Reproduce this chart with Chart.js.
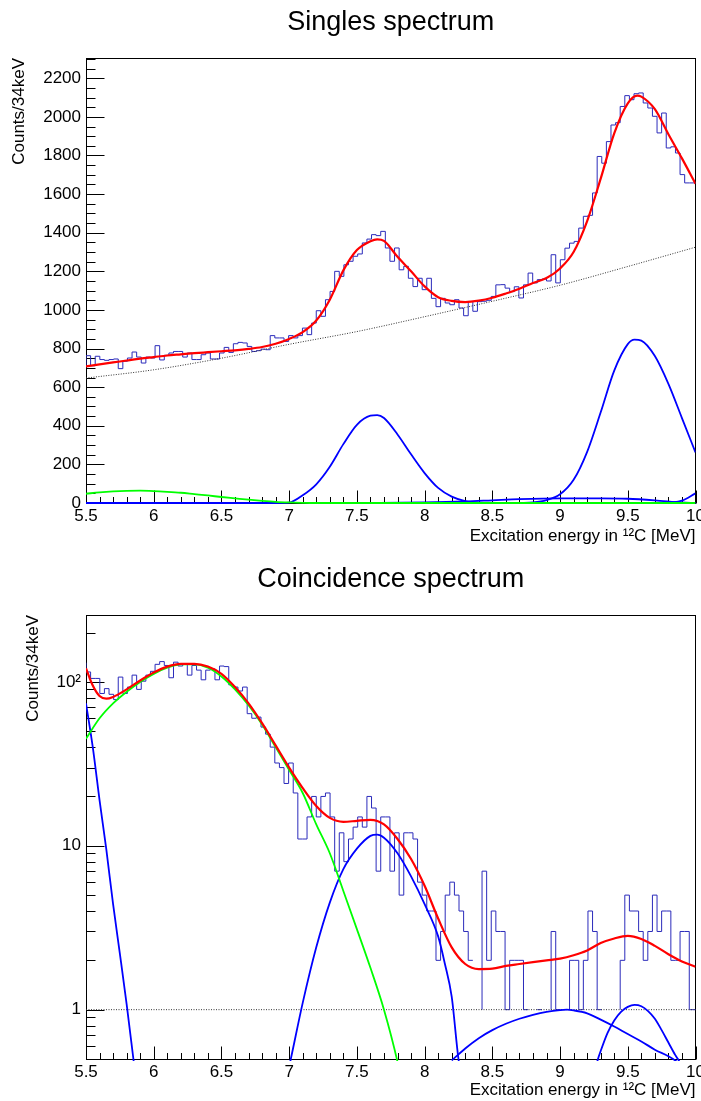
<!DOCTYPE html>
<html>
<head>
<meta charset="utf-8">
<title>Singles and coincidence spectra</title>
<script src="https://cdn.jsdelivr.net/npm/chart.js@4.4.1/dist/chart.umd.min.js"></script>
<style>
  html, body { margin:0; padding:0; background:#fff; }
  body { width:701px; height:1101px; position:relative; overflow:hidden; }
  #c1 { position:absolute; left:0; top:0; }
  #c2 { position:absolute; left:0; top:550px; }
</style>
</head>
<body>
<canvas id="c1" width="701" height="550"></canvas>
<canvas id="c2" width="701" height="551"></canvas>
<script>
const FONT = '"Liberation Sans", Arial, Helvetica, sans-serif';

// ---- histogram binning (34 keV bins) ----
const binStart = 5.5;
const binWidth = 0.034;

// ---- Singles spectrum: counts per bin ----
const singlesCounts = [
  708, 763, 711, 760, 743, 739, 743, 746, 696, 734,
  751, 782, 756, 725, 756, 751, 815, 741, 765, 777,
  785, 785, 756, 777, 743, 743, 768, 777, 746, 746,
  777, 806, 780, 825, 832, 829, 811, 785, 789, 797,
  794, 867, 855, 855, 837, 867, 855, 867, 906, 872,
  932, 996, 967, 1053, 1096, 1200, 1174, 1234, 1252, 1278,
  1290, 1347, 1367, 1390, 1385, 1407, 1321, 1252, 1321, 1208,
  1226, 1164, 1121, 1164, 1105, 1164, 1060, 1017, 1060, 1036,
  1027, 1053, 1010, 970, 1044, 993, 1043, 1045, 1050, 1070,
  1130, 1131, 1113, 1095, 1120, 1062, 1130, 1191, 1140, 1157,
  1160, 1150, 1286, 1140, 1260, 1320, 1346, 1355, 1424, 1485,
  1490, 1606, 1795, 1760, 1872, 1958, 1970, 2054, 2110, 2089,
  2120, 2124, 2072, 2046, 2003, 1917, 2020, 1839, 1845, 1813,
  1701, 1658, 1658
];

// ---- Coincidence spectrum: counts per bin ----
const coincCounts = [
  131, 115, 105, 105, 85, 91, 84, 78, 107, 85,
  93, 110, 90, 101, 110, 116, 128, 133, 126, 106,
  132, 125, 129, 110, 126, 118, 103, 118, 120, 103,
  125, 124, 96, 93, 88, 93, 64, 60, 61, 53,
  48, 40, 32, 30, 24, 32, 21, 11, 11, 15,
  20, 15, 20, 21, 15, 7, 12, 8, 11, 13,
  15, 13, 20, 17, 7, 15, 15, 7, 12, 5,
  12, 12, 11, 6, 5, 4, 4, 2, 3, 5,
  6, 5, 4, 3, 2, 0, 1, 7, 2, 4,
  3, 3, 1, 2, 2, 2, 1, 0, 1, 1,
  0, 1, 3, 1, 0, 1, 2, 2, 1, 2,
  4, 3, 1, 0, 1, 0, 1, 2, 5, 4,
  4, 3, 2, 3, 5, 3, 4, 4, 2, 2,
  3, 3, 1
];

// ---- tick labels ----
const xTicks = [5.5, 6, 6.5, 7, 7.5, 8, 8.5, 9, 9.5, 10];
const xTickLabels = ['5.5', '6', '6.5', '7', '7.5', '8', '8.5', '9', '9.5', '10'];
const singlesYTicks = [0, 200, 400, 600, 800, 1000, 1200, 1400, 1600, 1800, 2000, 2200];
const singlesYLabels = ['0', '200', '400', '600', '800', '1000', '1200', '1400', '1600', '1800', '2000', '2200'];
const coincYTicks = [1, 10, 100];
const coincYLabels = ['1', '10', '10\u00B2'];

// ---- Singles fit curves (sampled from the figure) ----
const sFitE = [5.5,5.6,5.7,5.8,5.9,6.0,6.1,6.2,6.3,6.4,6.5,6.6,6.7,6.8,6.9,7.0,7.1,7.2,7.3,7.4,7.5,7.6,7.65,7.7,7.8,7.9,8.0,8.1,8.2,8.3,8.4,8.5,8.6,8.7,8.8,8.9,9.0,9.1,9.2,9.3,9.4,9.5,9.57,9.6,9.7,9.8,9.9,10.0];
const sFitV = [708,718,728,738,748,756,764,770,776,781,786,791,798,808,825,850,885,945,1053,1205,1310,1356,1366,1358,1275,1200,1122,1066,1047,1041,1048,1063,1085,1110,1140,1165,1215,1300,1460,1680,1915,2070,2110,2105,2040,1910,1785,1654];
const sBkgE = [5.5,6.0,6.5,7.0,7.5,8.0,8.5,9.0,9.5,10.0];
const sBkgV = [647,690,750,822,888,965,1045,1128,1225,1325];
const sPeak1E = [5.5,6.0,6.5,6.9,7.0,7.1,7.2,7.3,7.4,7.5,7.6,7.65,7.7,7.8,7.9,8.0,8.1,8.2,8.3,8.4,8.5,10.0];
const sPeak1V = [0,0,0,0,2,40,97,188,305,405,452,455,440,355,252,155,78,33,10,2,0,0];
const sPeak2E = [8.7,8.8,8.9,9.0,9.1,9.2,9.3,9.4,9.5,9.55,9.6,9.7,9.8,9.9,10.0];
const sPeak2V = [0,3,15,45,120,265,470,686,823,846,841,761,617,440,262];
const sBroadE = [7.5,8.0,8.3,8.5,8.7,9.0,9.3,9.5,9.7,9.9,10.0];
const sBroadV = [0,3,8,14,20,24,24,22,14,3,0];
const sEdgeE = [9.8,9.9,10.0];
const sEdgeV = [0,12,50];
const sGreenE = [5.5,5.6,5.7,5.8,5.9,6.0,6.1,6.2,6.3,6.4,6.5,6.6,6.7,6.8,6.9,7.0,7.1,7.2,10.0];
const sGreenV = [48,55,60,63,64,62,58,53,46,39,31,24,17,11,6,3,1,0,0];

// ---- Coincidence fit curves (sampled from the figure) ----
const cFitE = [5.5,5.55,5.6,5.65,5.7,5.8,5.9,6.0,6.1,6.2,6.3,6.4,6.5,6.6,6.7,6.8,6.9,7.0,7.1,7.2,7.3,7.4,7.5,7.6,7.7,7.8,7.9,8.0,8.1,8.2,8.3,8.4,8.5,8.6,8.7,8.8,8.9,9.0,9.1,9.2,9.3,9.4,9.5,9.6,9.7,9.8,9.9,10.0];
const cFitV = [121,95,82,79,81,90,102,114,124,129,129,124,112,93,74,56,41,30,22.5,17.5,14.8,14,14.2,14.4,13.5,11,8.3,5.7,3.6,2.4,1.9,1.77,1.78,1.85,1.9,1.95,2.0,2.05,2.15,2.3,2.55,2.72,2.82,2.7,2.45,2.18,1.97,1.83];
const cGreenE = [5.5,5.6,5.7,5.8,5.9,6.0,6.1,6.2,6.3,6.4,6.5,6.6,6.7,6.8,6.9,7.0,7.1,7.2,7.3,7.4,7.5,7.6,7.7,7.8,7.85];
const cGreenV = [45,60,74,87,100,112,122,128,128,122,108,90,72,55,40,29,21,13.5,9,5.3,3.1,1.8,1.0,0.48,0.3];
const cLowE = [5.5,5.55,5.6,5.65,5.7,5.75,5.8,5.85,5.9];
const cLowV = [74,40,19,9.5,4.4,2.2,1.08,0.5,0.23];
const cPeak1E = [6.95,7.0,7.1,7.2,7.3,7.4,7.5,7.6,7.65,7.7,7.8,7.9,8.0,8.1,8.15,8.2,8.25,8.3];
const cPeak1V = [0.3,0.45,1.1,2.4,4.5,7.2,9.6,11.5,11.7,11.2,9.0,6.5,4.4,2.8,1.9,1.2,0.5,0.3];
const cBroadE = [8.2,8.3,8.4,8.5,8.6,8.7,8.8,8.9,9.0,9.05,9.1,9.2,9.3,9.4,9.5,9.6,9.7,9.8,9.85,9.9];
const cBroadV = [0.49,0.58,0.67,0.75,0.82,0.88,0.93,0.97,0.995,1.0,0.99,0.95,0.87,0.79,0.71,0.64,0.57,0.52,0.49,0.45];
const cPeak2E = [9.25,9.28,9.3,9.35,9.4,9.45,9.5,9.55,9.6,9.65,9.7,9.75,9.8,9.85,9.87,9.9];
const cPeak2V = [0.4,0.5,0.56,0.72,0.86,0.97,1.04,1.07,1.05,0.98,0.88,0.75,0.63,0.53,0.5,0.45];
const cBkgE = [5.5, 10.0];
const cBkgV = [1, 1];

// ---- helpers ----
function histPoints(counts) {
  const pts = counts.map((v, i) => ({ x: binStart + i * binWidth, y: v }));
  pts.push({ x: binStart + counts.length * binWidth, y: counts[counts.length - 1] });
  return pts;
}
function curve(E, V) { return E.map((e, i) => ({ x: e, y: V[i] })); }

const BLUE = '#0000ff', RED = '#ff0000', GREEN = '#00ff00', HIST = '#2b2bbb';
const clipBox = { left: 0, top: 0, right: 0, bottom: 2 };

function histDS(counts) {
  return { data: histPoints(counts), stepped: 'after', borderColor: HIST, borderWidth: 1,
           pointRadius: 0, fill: false, order: 6, clip: clipBox };
}
function curveDS(E, V, color, width, order, dash) {
  return { data: curve(E, V), borderColor: color, borderWidth: width, pointRadius: 0, fill: false,
           cubicInterpolationMode: 'monotone', order: order, borderDash: dash || [], clip: clipBox };
}

// ---- ROOT-style frame with inward ticks ----
const rootAxes = {
  id: 'rootAxes',
  beforeDatasetsDraw(chart, args, o) {
    const { ctx, chartArea: a } = chart;
    const xs = chart.scales.x, ys = chart.scales.y;
    ctx.save();
    ctx.strokeStyle = '#000';
    ctx.lineWidth = 1;
    const L = Math.round(a.left) + 0.5, R = Math.round(a.right) - 0.5;
    const T = Math.round(a.top) + 0.5, B = Math.round(a.bottom) + 0.5;
    ctx.strokeRect(L, T, R - L, B - T);
    ctx.beginPath();
    for (let i = 0; i <= 45; i++) {
      const v = 5.5 + i * 0.1;
      const px = Math.round(xs.getPixelForValue(v)) + 0.5;
      const len = (i % 5 === 0) ? 13 : 6.5;
      ctx.moveTo(px, B); ctx.lineTo(px, B - len);
    }
    const yt = [];
    if (o.kind === 'lin') {
      for (let v = 0; v <= ys.max; v += 50) yt.push([v, v % 200 === 0]);
    } else {
      for (let e = -1; e <= 2; e++) for (let m = 1; m <= 9; m++) {
        const v = m * Math.pow(10, e);
        if (v >= ys.min - 1e-9 && v <= ys.max) yt.push([v, m === 1]);
      }
    }
    for (const [v, major] of yt) {
      const py = Math.round(ys.getPixelForValue(v)) + 0.5;
      ctx.moveTo(L, py); ctx.lineTo(L + (major ? 18 : 9), py);
    }
    ctx.stroke();
    ctx.restore();
  }
};

function makeOptions(cfg) {
  return {
    responsive: false, animation: false, devicePixelRatio: 1, events: [],
    layout: { padding: { left: 0, right: 5.5, top: 0, bottom: 0 } },
    plugins: {
      legend: { display: false }, tooltip: { enabled: false },
      title: { display: true, text: cfg.title, fullSize: false, color: '#000',
               font: { family: FONT, size: 27, weight: 'normal', lineHeight: 1.2 },
               padding: { top: cfg.tTop, bottom: cfg.tBottom } },
      rootAxes: { kind: cfg.kind }
    },
    scales: {
      x: {
        type: 'linear', min: 5.5, max: 10,
        afterFit: s => { s.height = cfg.xH; s.paddingLeft = 0; s.paddingRight = 0; },
        afterBuildTicks: s => { s.ticks = xTicks.map(v => ({ value: v })); },
        grid: { display: false, drawTicks: false }, border: { display: false },
        ticks: { color: '#000', padding: 3, maxRotation: 0, autoSkip: false,
                 font: { family: FONT, size: 17, lineHeight: 1.2 },
                 callback: v => xTickLabels[xTicks.indexOf(v)] },
        title: { display: true, text: 'Excitation energy in \u00B9\u00B2C [MeV]', align: 'end', color: '#000',
                 font: { family: FONT, size: 17, lineHeight: 1.2 }, padding: { top: 0, bottom: cfg.xtPad } }
      },
      y: {
        type: cfg.kind === 'lin' ? 'linear' : 'logarithmic', min: cfg.yMin, max: cfg.yMax,
        afterFit: s => { s.width = 86; s.paddingTop = 0; s.paddingBottom = 0; },
        afterBuildTicks: s => { s.ticks = cfg.yTicks.map(v => ({ value: v })); },
        grid: { display: false, drawTicks: false }, border: { display: false },
        ticks: { color: '#000', padding: 5, autoSkip: false,
                 font: { family: FONT, size: 17, lineHeight: 1.2 },
                 callback: v => cfg.yLabels[cfg.yTicks.indexOf(v)] },
        title: { display: true, text: 'Counts/34keV', align: 'end', color: '#000',
                 font: { family: FONT, size: 17, lineHeight: 1.2 }, padding: { top: cfg.ytPad, bottom: 0 } }
      }
    }
  };
}

new Chart(document.getElementById('c1'), {
  type: 'line',
  data: { datasets: [
    histDS(singlesCounts),
    curveDS(sBkgE, sBkgV, '#333', 1, 5, [1, 1.5]),
    curveDS(sPeak1E, sPeak1V, BLUE, 1.8, 4),
    curveDS(sBroadE, sBroadV, BLUE, 1.8, 4),
    curveDS(sEdgeE, sEdgeV, BLUE, 1.8, 4),
    curveDS(sPeak2E, sPeak2V, BLUE, 1.8, 4),
    curveDS(sGreenE, sGreenV, GREEN, 1.8, 3),
    curveDS(sFitE, sFitV, RED, 2.2, 1)
  ] },
  options: makeOptions({ title: 'Singles spectrum', tTop: 6.4, tBottom: 19.2, kind: 'lin',
    yMin: 0, yMax: 2305, yTicks: singlesYTicks, yLabels: singlesYLabels, xH: 47, xtPad: 3.8, ytPad: 8.8 }),
  plugins: [rootAxes]
});

new Chart(document.getElementById('c2'), {
  type: 'line',
  data: { datasets: [
    histDS(coincCounts),
    curveDS(cBkgE, cBkgV, '#333', 1, 5, [1, 1.5]),
    curveDS(cLowE, cLowV, BLUE, 1.8, 4),
    curveDS(cPeak1E, cPeak1V, BLUE, 1.8, 4),
    curveDS(cBroadE, cBroadV, BLUE, 1.8, 4),
    curveDS(cPeak2E, cPeak2V, BLUE, 1.8, 4),
    curveDS(cGreenE, cGreenV, GREEN, 1.8, 3),
    curveDS(cFitE, cFitV, RED, 2.2, 1)
  ] },
  options: makeOptions({ title: 'Coincidence spectrum', tTop: 13.4, tBottom: 19.2, kind: 'log',
    yMin: 0.5, yMax: 256, yTicks: coincYTicks, yLabels: coincYLabels, xH: 42, xtPad: 0, ytPad: 22.8 }),
  plugins: [rootAxes]
});
</script>
</body>
</html>
